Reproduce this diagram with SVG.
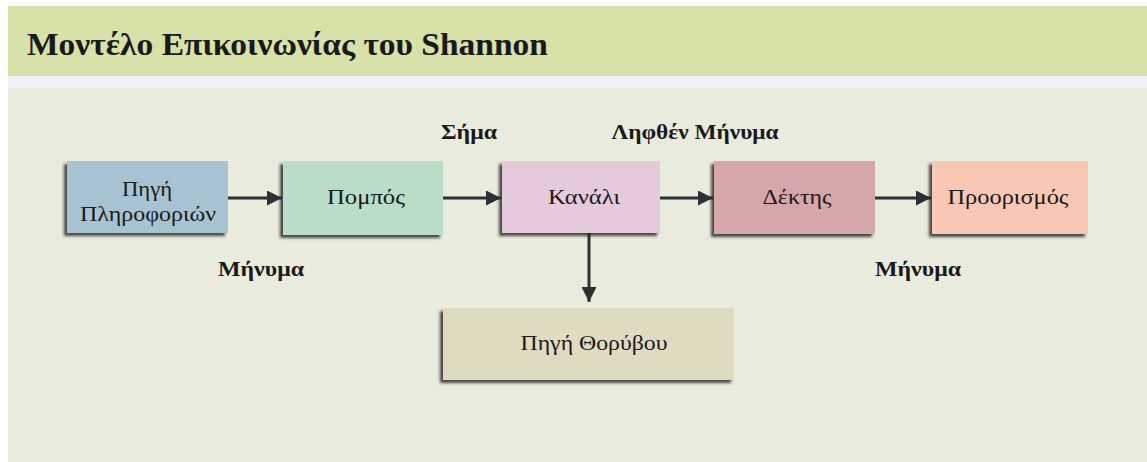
<svg xmlns="http://www.w3.org/2000/svg" width="1147" height="462" viewBox="0 0 1147 462">
  <style>
    .title { font-family: "Liberation Serif", "DejaVu Serif", serif; font-weight: bold; font-size: 31px; fill: #1a1a1a; }
    .lbl { font-family: "Liberation Serif", "DejaVu Serif", serif; font-weight: bold; font-size: 21px; fill: #1a1a1a; text-anchor: middle; }
    .txt { font-family: "Liberation Serif", "DejaVu Serif", serif; font-size: 22px; fill: #1a1a1a; text-anchor: middle; }
    .box { filter: url(#sh); }
    .conn { stroke: #2b2f36; stroke-width: 3; fill: none; marker-end: url(#arr); }
  </style>
  <defs>
    <filter id="sh" x="-10%" y="-10%" width="120%" height="130%">
      <feDropShadow dx="-3" dy="3" stdDeviation="1.5" flood-color="#2a2a2a" flood-opacity="0.85"/>
    </filter>
    <marker id="arr" viewBox="0 0 10 10" refX="10" refY="5" markerWidth="5" markerHeight="5" orient="auto" markerUnits="strokeWidth">
      <path d="M0,0 L10,5 L0,10 Z" fill="#2b2f36"/>
    </marker>
  </defs>
  <rect x="0" y="0" width="1147" height="462" fill="#ffffff"/>
  <rect x="8" y="6" width="1139" height="70" fill="#d8e1a8"/>
  <rect x="8" y="76" width="1139" height="12" fill="#eef2f6"/>
  <rect x="8" y="88" width="1139" height="374" fill="#e9ebdd"/>
  <text class="title" x="27" y="55" textLength="521" lengthAdjust="spacingAndGlyphs">Μοντέλο Επικοινωνίας του Shannon</text>

  <g id="connectors">
    <line class="conn" x1="228" y1="198" x2="282" y2="198"/>
    <line class="conn" x1="443" y1="198" x2="501" y2="198"/>
    <line class="conn" x1="660" y1="198" x2="713" y2="198"/>
    <line class="conn" x1="875" y1="198" x2="931" y2="198"/>
    <line class="conn" x1="589" y1="233" x2="589" y2="302"/>
  </g>

  <g id="source">
    <rect class="box" x="67" y="161" width="161" height="72" fill="#a7c3d2"/>
    <text class="txt" x="147" y="196" textLength="50" lengthAdjust="spacingAndGlyphs">Πηγή</text>
    <text class="txt" x="148" y="221" textLength="136" lengthAdjust="spacingAndGlyphs">Πληροφοριών</text>
  </g>
  <g id="transmitter">
    <rect class="box" x="283" y="161" width="160" height="74" fill="#b9ddc6"/>
    <text class="txt" x="366" y="204" textLength="78" lengthAdjust="spacingAndGlyphs">Πομπός</text>
  </g>
  <g id="channel">
    <rect class="box" x="502" y="161" width="158" height="72" fill="#e4cadb"/>
    <text class="txt" x="584" y="204" textLength="72" lengthAdjust="spacingAndGlyphs">Κανάλι</text>
  </g>
  <g id="receiver">
    <rect class="box" x="714" y="161" width="161" height="73" fill="#d5a6aa"/>
    <text class="txt" x="797" y="204" textLength="69" lengthAdjust="spacingAndGlyphs">Δέκτης</text>
  </g>
  <g id="destination">
    <rect class="box" x="932" y="161" width="156" height="73" fill="#f9c8b4"/>
    <text class="txt" x="1008" y="204" textLength="121" lengthAdjust="spacingAndGlyphs">Προορισμός</text>
  </g>
  <g id="noise">
    <rect class="box" x="443" y="308" width="291" height="72" fill="#dfdbc1"/>
    <text class="txt" x="594" y="350" textLength="147" lengthAdjust="spacingAndGlyphs">Πηγή Θορύβου</text>
  </g>

  <g id="labels">
    <text class="lbl" x="469" y="139" textLength="56" lengthAdjust="spacingAndGlyphs">Σήμα</text>
    <text class="lbl" x="695" y="139" textLength="167" lengthAdjust="spacingAndGlyphs">Ληφθέν Μήνυμα</text>
    <text class="lbl" x="261" y="276" textLength="86" lengthAdjust="spacingAndGlyphs">Μήνυμα</text>
    <text class="lbl" x="918" y="276" textLength="86" lengthAdjust="spacingAndGlyphs">Μήνυμα</text>
  </g>
</svg>
